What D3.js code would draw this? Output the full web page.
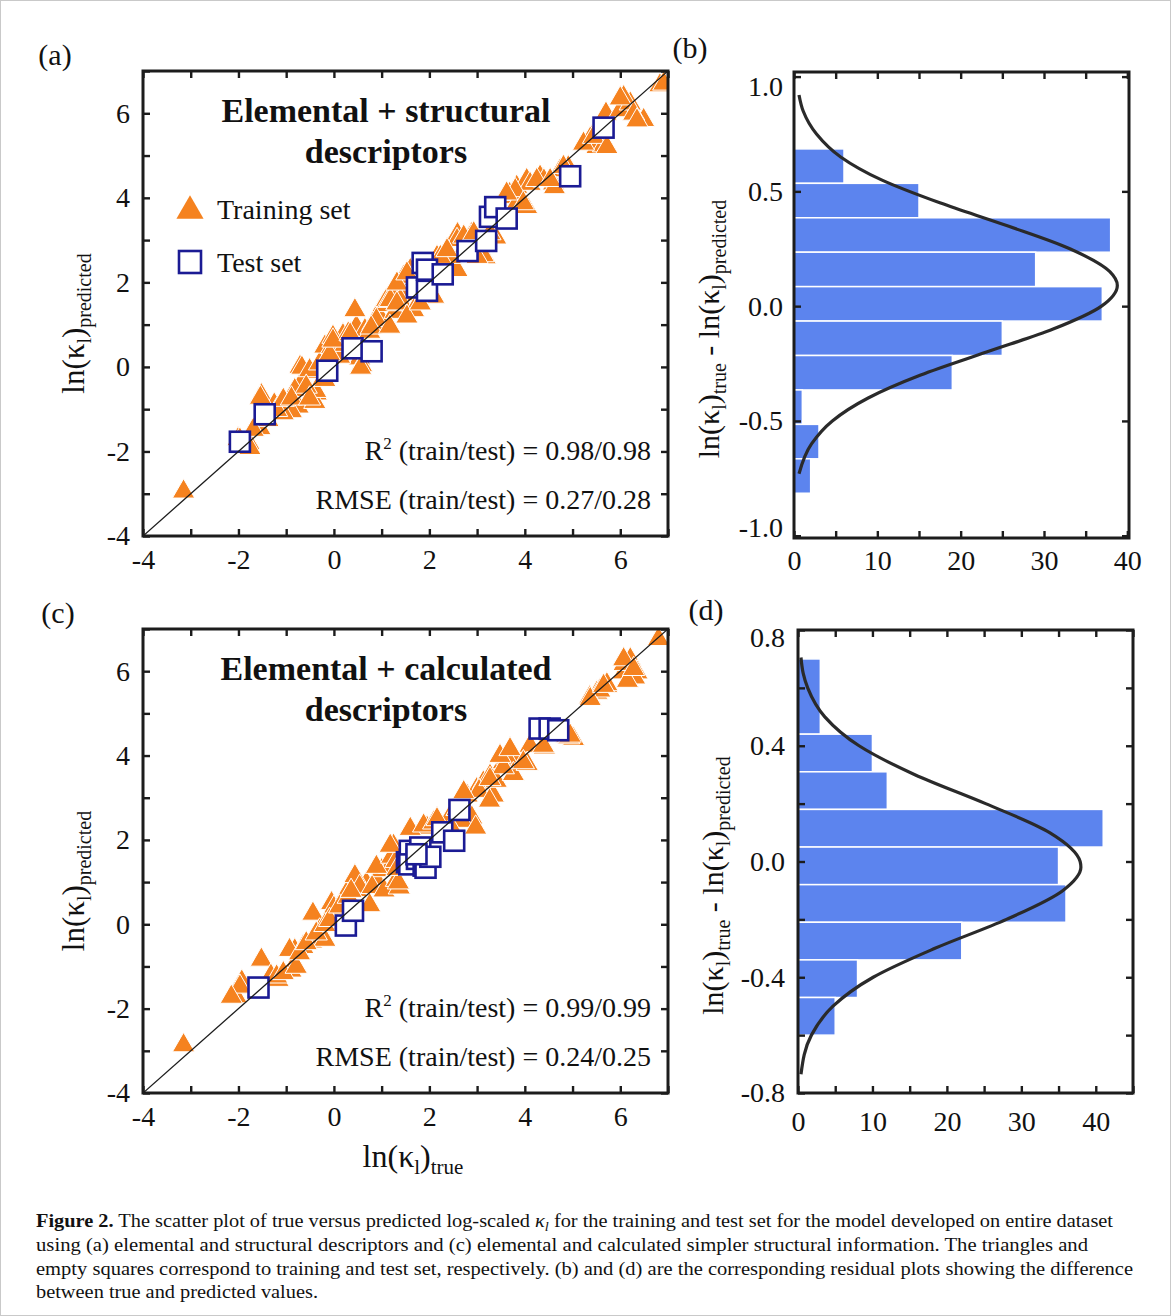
<!DOCTYPE html>
<html>
<head>
<meta charset="utf-8">
<script src="https://cdn.jsdelivr.net/npm/d3@7"></script>
<style>
  body { margin: 0; background: #fff; }
  svg text { font-family: "Liberation Serif", "Times New Roman", serif; fill: #111; }
</style>
</head>
<body>
<svg id="fig" width="1171" height="1316"></svg>
<script>
// ---------------------------------------------------------------------------
// Data

// (a) elemental + structural descriptors : [true, predicted]
const trainA = [
  [-3.15, -2.95], [-2.01, -1.71], [-1.78, -1.80], [-1.97, -1.72], [-1.76, -1.92],
  [-1.52, -0.67], [-1.24, -0.90], [-1.55, -1.45], [-1.38, -1.26], [-1.25, -0.89], [-1.54, -0.73],
  [-0.92, -1.02], [-0.75, -0.94], [-0.89, -1.05], [-0.71, 0.0], [-0.65, -0.31], [-0.82, -0.55],
  [-0.67, -0.02], [-0.37, -0.63], [-0.40, -0.83], [-0.38, -0.57], [-0.19, -0.31], [-0.37, -0.12],
  [-0.51, -0.08], [-0.30, 0.08], [-0.09, 0.24], [-0.19, 0.48], [0.02, 0.63], [0.19, 0.75],
  [0.33, 0.55], [0.47, 0.95], [0.65, 0.87], [0.82, 1.03], [0.96, 1.19], [1.03, 1.46], [1.31, 1.74],
  [0.54, 0.20], [-1.06, -1.10], [-1.20, -1.02], [-1.69, -1.49], [-1.06, -0.78], [-0.89, -0.75],
  [-0.58, -0.47], [-0.51, -0.75],
  [-0.02, 0.71], [-0.05, 0.47], [0.12, 0.24], [0.30, 0.79], [0.44, 1.34], [0.58, 0.04], [0.56, -0.02],
  [0.75, 0.83], [0.89, 1.11], [0.23, 0.52], [-0.09, 0.30], [-0.02, 0.62], [0.34, 0.77], [0.78, 0.93],
  [1.10, 1.58], [1.28, 1.30], [1.17, 0.95], [1.14, 1.56], [1.36, 1.48], [1.58, 2.12], [1.50, 1.72],
  [1.87, 1.80], [2.08, 2.20], [2.23, 2.59], [2.44, 2.36], [2.66, 2.67], [2.59, 3.14], [2.88, 3.14],
  [3.17, 2.59], [3.39, 3.06], [1.46, 2.13], [1.60, 2.29], [1.39, 1.58], [1.67, 1.34], [2.09, 1.66],
  [1.18, 1.58], [2.86, 3.08], [2.58, 3.00], [3.13, 2.64], [2.58, 2.29], [2.44, 2.60], [2.16, 2.60],
  [1.32, 1.97], [1.53, 2.21], [1.32, 1.50], [1.53, 1.19], [1.81, 1.50], [2.23, 2.60], [2.37, 2.76],
  [2.72, 3.08], [2.93, 3.16], [3.00, 2.60], [3.27, 3.16], [3.48, 3.63], [3.69, 4.02], [3.83, 4.26],
  [4.04, 4.42], [4.32, 4.50], [4.60, 4.34], [4.74, 4.65],
  [3.68, 4.09], [3.82, 3.85], [4.04, 3.78], [4.11, 4.33], [4.40, 4.41], [4.62, 4.25], [4.91, 4.72],
  [3.80, 4.18], [3.62, 4.10], [3.97, 3.87], [4.25, 4.42], [4.53, 4.42], [4.81, 4.73],
  [5.41, 5.44], [5.63, 5.20], [5.70, 5.99], [5.37, 5.40], [5.51, 5.20], [5.65, 5.24],
  [5.23, 5.28], [5.44, 5.44], [5.72, 5.20], [6.00, 6.07], [6.21, 6.23], [6.49, 5.84],
  [6.07, 6.38], [6.28, 5.99], [6.00, 6.35], [6.35, 5.83], [6.83, 6.66], [6.91, 6.70]
];
const testA = [
  [-1.97, -1.77], [-1.45, -1.12], [-0.14, -0.09], [0.39, 0.44], [0.79, 0.37], [1.74, 1.88],
  [1.95, 1.80], [1.86, 2.46], [1.95, 2.30], [2.28, 2.19], [2.80, 2.74], [3.19, 2.98],
  [3.27, 3.55], [3.38, 3.78], [3.62, 3.51], [4.95, 4.51], [5.65, 5.66]
];

// (c) elemental + calculated descriptors : [true, predicted]
const trainC = [
  [-3.15, -2.87], [-2.05, -1.71], [-1.93, -1.36], [-1.52, -0.84], [-1.32, -1.22], [-1.17, -1.32],
  [-0.90, -1.10], [-0.82, -0.62], [-0.65, -0.54], [-0.47, -0.41], [-0.44, 0.25], [-0.30, -0.15],
  [-0.19, -0.37], [-0.05, 0.50], [0.05, 0.02], [-0.08, 0.08], [0.00, 0.39], [0.26, 0.73],
  [-1.97, -1.48], [-2.15, -1.72], [-1.20, -1.24], [-1.06, -1.16], [-0.79, -1.01], [-0.93, -0.61],
  [-0.72, -0.69], [-0.58, -0.45], [-0.37, -0.22], [-0.19, -0.02], [-0.09, 0.10], [0.12, 0.42],
  [0.30, 0.65], [0.47, 0.81], [0.68, 0.97], [0.89, 1.05], [1.00, 1.28], [1.17, 1.36], [1.31, 1.76],
  [0.89, 1.36],
  [0.44, 1.14], [0.54, 0.89], [0.36, 0.79], [0.80, 0.88], [0.75, 0.45], [1.05, 0.80], [1.21, 1.60],
  [1.31, 1.05], [1.37, 0.87], [1.30, 1.50], [1.25, 1.86], [1.35, 0.99], [1.95, 2.29], [2.24, 2.06],
  [1.18, 1.86], [1.32, 1.31], [1.60, 2.26], [1.88, 2.34], [2.09, 2.41], [2.44, 2.57], [2.58, 2.73],
  [2.79, 3.05], [2.99, 3.20], [3.13, 3.36], [3.27, 3.52], [3.34, 3.05], [3.55, 3.84], [3.83, 3.84],
  [4.11, 4.23], [4.88, 4.47], [5.02, 4.39], [5.51, 5.49], [5.72, 5.65], [6.07, 5.97], [6.21, 6.28],
  [6.35, 5.97],
  [2.16, 2.49], [2.68, 2.93], [2.89, 2.53], [3.04, 3.16], [3.26, 2.93], [3.40, 3.40], [3.62, 3.95],
  [3.76, 3.56], [3.55, 3.72], [4.05, 3.80], [4.41, 4.19], [4.92, 4.43], [2.68, 2.45], [2.46, 2.29],
  [2.97, 2.29], [2.72, 3.13], [3.27, 3.44], [3.48, 3.99], [3.69, 4.15], [3.97, 3.84], [4.39, 4.23],
  [4.95, 4.47], [5.36, 5.38], [5.57, 5.54], [5.72, 5.69], [5.37, 5.34], [5.65, 5.65], [6.08, 6.17],
  [6.30, 5.85], [6.15, 5.77], [6.07, 6.28], [6.28, 6.05], [6.80, 6.76]
];
const testC = [
  [-1.58, -1.50], [0.25, -0.03], [0.40, 0.32], [1.53, 1.47], [1.59, 1.74], [1.58, 1.42],
  [1.74, 1.55], [1.81, 1.82], [1.88, 1.39], [1.92, 1.34], [2.02, 1.60], [1.73, 1.66],
  [2.27, 2.18], [2.52, 1.98], [2.63, 2.71], [4.31, 4.64], [4.52, 4.64], [4.70, 4.60]
];

// (b) residual histogram: bin edges (top to bottom) and counts
const edgesB = [0.685, 0.535, 0.385, 0.235, 0.085, -0.065, -0.215, -0.365, -0.515, -0.665, -0.815];
const countsB = [6, 15, 38, 29, 37, 25, 19, 1, 3, 2];
// fitted normal curve: [residual, count]
const fitB = [
  [0.92, 0.6], [0.85, 1.1], [0.75, 2.7], [0.65, 5.6], [0.55, 10.5], [0.45, 17.5], [0.35, 25.6],
  [0.25, 33.1], [0.15, 37.9], [0.09, 38.8], [0.0, 36.9], [-0.1, 31.1], [-0.2, 23.1], [-0.3, 15.2],
  [-0.4, 8.9], [-0.5, 4.6], [-0.6, 2.1], [-0.73, 0.6]
];

// (d) residual histogram
const edgesD = [0.70, 0.44, 0.31, 0.18, 0.05, -0.08, -0.21, -0.34, -0.47, -0.60];
const countsD = [3, 10, 12, 41, 35, 36, 22, 8, 5];
const fitD = [
  [0.705, 0.4], [0.65, 0.7], [0.6, 1.3], [0.5, 3.6], [0.4, 8.2], [0.3, 15.7], [0.2, 25.2],
  [0.1, 33.8], [0.0, 37.9], [-0.02, 38.0], [-0.1, 35.6], [-0.2, 28.0], [-0.3, 18.4], [-0.4, 10.1],
  [-0.5, 4.7], [-0.6, 1.8], [-0.735, 0.4]
];

// ticks
const scatterTicks = [-4, -3, -2, -1, 0, 1, 2, 3, 4, 5, 6, 7];
const scatterLabels = [-4, -2, 0, 2, 4, 6];
const histXTicksB = [0, 5, 10, 15, 20, 25, 30, 35, 40];
const histXTicksD = [0, 5, 10, 15, 20, 25, 30, 35, 40, 45];
const histXLabels = [0, 10, 20, 30, 40];
const residTicksB = [-1.0, -0.5, 0.0, 0.5, 1.0];
const residTicksD = [-0.8, -0.6, -0.4, -0.2, 0.0, 0.2, 0.4, 0.6, 0.8];
const residLabelsD = [-0.8, -0.4, 0.0, 0.4, 0.8];

const statsA = ['0.98/0.98', '0.27/0.28'];
const statsC = ['0.99/0.99', '0.24/0.25'];

// ---------------------------------------------------------------------------
const svg = d3.select('#fig');
const ink = '#1c1c1c';
const orange = '#f5821f';
const navy = '#1b1b94';
const barBlue = '#5c84ee';

svg.append('rect').attr('x', 0.5).attr('y', 0.5).attr('width', 1170).attr('height', 1315)
  .attr('fill', '#fff').attr('stroke', '#c9c9c9');

// writes a run of normal / subscript / superscript pieces into a text element
function rich(text, parts, subSize) {
  let shift = 0;
  parts.forEach(p => {
    const want = p.sub ? p.sub : 0;
    const ts = text.append('tspan').attr('dy', want - shift).text(p.t);
    if (p.sub) ts.style('font-size', subSize + 'px');
    if (p.i) ts.style('font-style', 'italic');
    if (p.b) ts.style('font-weight', 'bold');
    shift = want;
  });
  return text;
}

function styleAxis(sel, size) {
  sel.attr('font-family', null);
  sel.select('.domain').remove();
  sel.selectAll('.tick line').attr('stroke', ink).attr('stroke-width', 2.4);
  sel.selectAll('.tick text').style('font-size', size + 'px');
}

function drawAxes(x, y, o) {
  const [x0, x1] = x.range();
  const [y0, y1] = y.range();
  const g = svg.append('g');
  const lx = v => o.xLabels.includes(v) ? o.xFmt(v) : '';
  const ly = v => o.yLabels.includes(v) ? o.yFmt(v) : '';

  g.append('g').attr('transform', `translate(0,${y0})`)
    .call(d3.axisBottom(x).tickValues(o.xTicks).tickSizeInner(-o.tick).tickSizeOuter(0)
      .tickPadding(o.xPad).tickFormat(lx))
    .call(s => styleAxis(s, o.font));
  g.append('g').attr('transform', `translate(0,${y1})`)
    .call(d3.axisTop(x).tickValues(o.xTicks).tickSizeInner(-o.tick).tickSizeOuter(0).tickFormat(''))
    .call(s => styleAxis(s, o.font));
  const left = g.append('g').attr('transform', `translate(${x0},0)`)
    .call(d3.axisLeft(y).tickValues(o.yTicks).tickSizeInner(-o.tick).tickSizeOuter(0)
      .tickPadding(o.yPad).tickFormat(ly))
    .call(s => styleAxis(s, o.font));
  g.append('g').attr('transform', `translate(${x1},0)`)
    .call(d3.axisRight(y).tickValues(o.yTicks).tickSizeInner(-o.tick).tickSizeOuter(0).tickFormat(''))
    .call(s => styleAxis(s, o.font));

  // end labels nudged inward like the original
  if (o.nudge) {
    left.selectAll('.tick text').attr('transform', d => {
      if (d === o.yTicks[o.yTicks.length - 1]) return `translate(0,${o.nudge[0]})`;
      if (d === o.yTicks[0]) return `translate(0,${o.nudge[1]})`;
      return null;
    });
  }

  g.append('rect').attr('x', x0).attr('y', y1).attr('width', x1 - x0).attr('height', y0 - y1)
    .attr('fill', 'none').attr('stroke', ink).attr('stroke-width', 3);
}

const intFmt = v => String(v);
const oneFmt = v => v.toFixed(1);

// ---------------------------------------------------------------------------
function drawScatter(train, test, top, bottom, id, title, stats) {
  const x = d3.scaleLinear().domain([-4, 7]).range([143, 668]);
  const y = d3.scaleLinear().domain([-4, 7]).range([bottom, top]);

  svg.append('clipPath').attr('id', id).append('rect')
    .attr('x', 143).attr('y', top).attr('width', 525).attr('height', bottom - top);
  const g = svg.append('g').attr('clip-path', `url(#${id})`);

  const tri = d3.symbol(d3.symbolTriangle, 215);
  g.selectAll('path.train').data(train).join('path')
    .attr('class', 'train')
    .attr('d', tri)
    .attr('transform', d => `translate(${x(d[0])},${y(d[1])})`)
    .attr('fill', orange).attr('stroke', '#fff').attr('stroke-width', 1);

  g.selectAll('rect.test').data(test).join('rect')
    .attr('class', 'test')
    .attr('x', d => x(d[0]) - 10).attr('y', d => y(d[1]) - 10)
    .attr('width', 20).attr('height', 20)
    .attr('fill', '#fff').attr('stroke', navy).attr('stroke-width', 2.6);

  g.append('line')
    .attr('x1', x(-4)).attr('y1', y(-4)).attr('x2', x(7)).attr('y2', y(7))
    .attr('stroke', ink).attr('stroke-width', 1.3);

  drawAxes(x, y, {
    xTicks: scatterTicks, xLabels: scatterLabels, xFmt: intFmt,
    yTicks: scatterTicks, yLabels: scatterLabels, yFmt: intFmt,
    tick: 7, font: 28, xPad: 13, yPad: 13
  });

  // title
  const t = svg.append('g').style('font-weight', 'bold').style('font-size', '34px')
    .attr('text-anchor', 'middle');
  t.append('text').attr('x', 386).attr('y', top + 51).text(title[0]);
  t.append('text').attr('x', 386).attr('y', top + 92).text(title[1]);

  // statistics
  const s = svg.append('g').style('font-size', '28px').attr('text-anchor', 'end');
  rich(s.append('text').attr('x', 651).attr('y', bottom - 76),
    [{ t: 'R' }, { t: '2', sub: -11 }, { t: ' (train/test) = ' + stats[0] }], 17);
  s.append('text').attr('x', 651).attr('y', bottom - 27).text('RMSE (train/test) = ' + stats[1]);

  // y label
  rich(svg.append('text')
    .attr('transform', `translate(84,${(top + bottom) / 2 + 20}) rotate(-90)`)
    .attr('text-anchor', 'middle').style('font-size', '31px'),
    [{ t: 'ln(κ' }, { t: 'l', sub: 7 }, { t: ')' }, { t: 'predicted', sub: 7 }], 20);
}

function drawHist(edges, counts, fit, xr, yr, xDom, yDom, o) {
  const x = d3.scaleLinear().domain(xDom).range(xr);
  const y = d3.scaleLinear().domain(yDom).range(yr);
  const bins = counts.map((c, i) => ({ hi: edges[i], lo: edges[i + 1], c }));
  const g = svg.append('g');

  g.selectAll('rect').data(bins).join('rect')
    .attr('x', x(0)).attr('y', d => y(d.hi))
    .attr('width', d => x(d.c) - x(0)).attr('height', d => y(d.lo) - y(d.hi))
    .attr('fill', barBlue).attr('stroke', '#fff').attr('stroke-width', 1.5);

  const line = d3.line().x(d => x(d[1])).y(d => y(d[0])).curve(d3.curveMonotoneY);
  g.append('path').datum(fit).attr('d', line)
    .attr('fill', 'none').attr('stroke', '#2a2a2a').attr('stroke-width', 3.2);

  drawAxes(x, y, o);

  const mid = (yr[0] + yr[1]) / 2;
  rich(svg.append('text')
    .attr('transform', `translate(${xr[0] - 75},${mid + 24}) rotate(-90)`)
    .attr('text-anchor', 'middle').style('font-size', '30px'),
    [{ t: 'ln(κ' }, { t: 'l', sub: 7 }, { t: ')' }, { t: 'true', sub: 7 }, { t: ' - ln(κ' },
      { t: 'l', sub: 7 }, { t: ')' }, { t: 'predicted', sub: 7 }], 20);
}

drawScatter(trainA, testA, 71, 536, 'clipA', ['Elemental + structural', 'descriptors'], statsA);
drawScatter(trainC, testC, 629, 1093, 'clipC', ['Elemental + calculated', 'descriptors'], statsC);

drawHist(edgesB, countsB, fitB, [794, 1129], [538, 72], [0, 40.2], [-1.01, 1.02], {
  xTicks: histXTicksB, xLabels: histXLabels, xFmt: intFmt,
  yTicks: residTicksB, yLabels: residTicksB, yFmt: oneFmt,
  tick: 7, font: 28, xPad: 12, yPad: 11, nudge: [10, -8]
});
drawHist(edgesD, countsD, fitD, [798, 1133], [1093, 630], [0, 45], [-0.8, 0.8], {
  xTicks: histXTicksD, xLabels: histXLabels, xFmt: intFmt,
  yTicks: residTicksD, yLabels: residLabelsD, yFmt: oneFmt,
  tick: 7, font: 28, xPad: 18, yPad: 13, nudge: [8, 0]
});

// x label of the lower row
rich(svg.append('text').attr('x', 413).attr('y', 1167).attr('text-anchor', 'middle')
  .style('font-size', '32px'),
  [{ t: 'ln(κ' }, { t: 'l', sub: 7 }, { t: ')' }, { t: 'true', sub: 7 }], 21);

// panel letters
const letters = [['(a)', 55, 65], ['(b)', 690, 58], ['(c)', 58, 623], ['(d)', 706, 620]];
svg.selectAll('text.panel').data(letters).join('text')
  .attr('class', 'panel').attr('x', d => d[1]).attr('y', d => d[2])
  .attr('text-anchor', 'middle').style('font-size', '30px').text(d => d[0]);

// caption
const cap = svg.append('g').style('font-size', '18.5px');
rich(cap.append('text').attr('x', 36).attr('y', 1227).attr('textLength', 1077)
  .attr('lengthAdjust', 'spacingAndGlyphs'),
  [{ t: 'Figure 2.', b: true }, { t: ' The scatter plot of true versus predicted log-scaled ' },
    { t: 'κ', i: true }, { t: 'l', i: true, sub: 4 },
    { t: ' for the training and test set for the model developed on entire dataset' }], 13);
cap.append('text').attr('x', 36).attr('y', 1251).attr('textLength', 1052)
  .attr('lengthAdjust', 'spacingAndGlyphs')
  .text('using (a) elemental and structural descriptors and (c) elemental and calculated simpler structural information. The triangles and');
cap.append('text').attr('x', 36).attr('y', 1275).attr('textLength', 1097)
  .attr('lengthAdjust', 'spacingAndGlyphs')
  .text('empty squares correspond to training and test set, respectively. (b) and (d) are the corresponding residual plots showing the difference');
cap.append('text').attr('x', 36).attr('y', 1298).attr('textLength', 282)
  .attr('lengthAdjust', 'spacingAndGlyphs')
  .text('between true and predicted values.');

// legend (panel a)
const leg = svg.append('g');
leg.append('path').attr('d', d3.symbol(d3.symbolTriangle, 320))
  .attr('transform', 'translate(190,211)').attr('fill', orange);
leg.append('rect').attr('x', 179).attr('y', 251).attr('width', 22).attr('height', 22)
  .attr('fill', '#fff').attr('stroke', navy).attr('stroke-width', 2.6);
leg.append('text').attr('x', 217).attr('y', 219).style('font-size', '28px').text('Training set');
leg.append('text').attr('x', 217).attr('y', 272).style('font-size', '28px').text('Test set');
</script>
</body>
</html>
